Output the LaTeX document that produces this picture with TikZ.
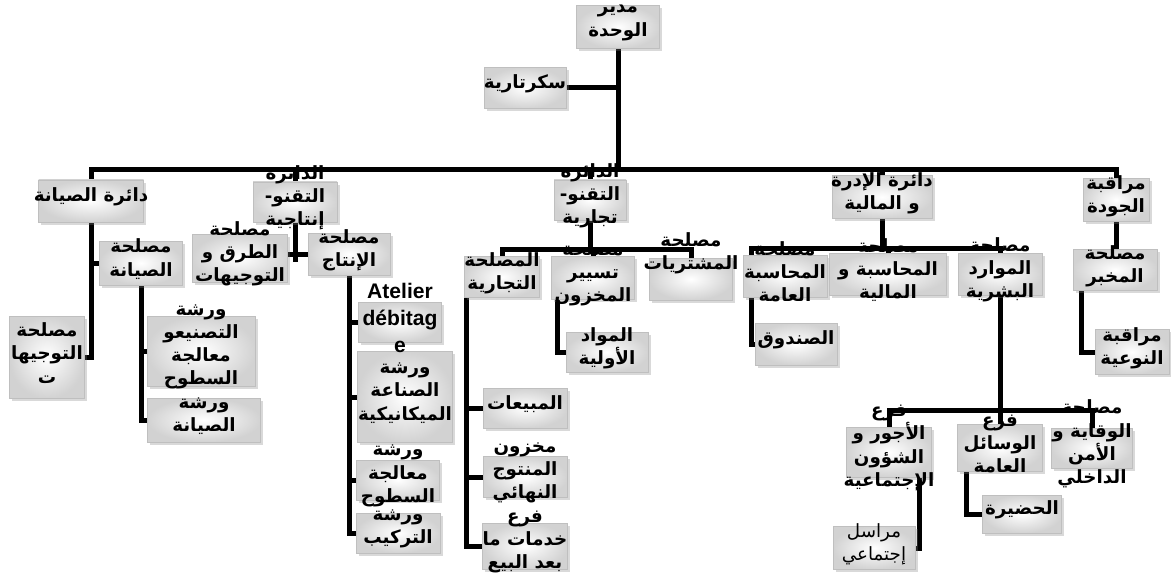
\documentclass[tikz,border=0pt]{standalone}
\usepackage{fontspec}
\setmainfont{Liberation Sans}
\newfontfamily\arabicfont[Script=Arabic]{DejaVu Sans}
\TeXXeTstate=1
\usetikzlibrary{shadows,backgrounds}
\newcommand{\arb}[1]{\beginR #1\endR}
\tikzstyle{box} = [rectangle, draw=gray!50, inner color=white, outer color=gray!35,
  drop shadow={opacity=0.3, shadow xshift=0.7mm, shadow yshift=-0.7mm}, inner sep=0pt]
\tikzstyle{txt} = [font=\fontsize{13}{16.5}\selectfont\arabicfont\bfseries, align=center,
  inner sep=0pt, yshift=1mm]
\tikzstyle{line} = [draw, line width=1.25mm]
\tikzset{sz/.style 2 args={minimum width=#1*0.25mm, minimum height=#2*0.25mm}}

\begin{document}
\begin{tikzpicture}[x=0.25mm, y=-0.25mm]
    \useasboundingbox (0,0) rectangle (1171,581);
    % boxes
    \node [box, sz={83}{43}] (dir) at (618,27) {};
    \node [box, sz={82}{41}] (sec) at (525,88) {};
    \node [box, sz={105}{42}] (maint) at (91,201) {};
    \node [box, sz={84}{40}] (prod) at (295,202) {};
    \node [box, sz={72}{40}] (comm) at (590,200) {};
    \node [box, sz={100}{43}] (admin) at (882,197) {};
    \node [box, sz={66}{43}] (qual) at (1116,200) {};
    \node [box, sz={83}{44}] (mtsvc) at (141,263) {};
    \node [box, sz={75}{82}] (guid) at (47,357) {};
    \node [box, sz={108}{70}] (ws1) at (201,351) {};
    \node [box, sz={113}{44}] (ws2) at (204,420) {};
    \node [box, sz={95}{48}] (roads) at (240,258) {};
    \node [box, sz={82}{42}] (prodsvc) at (349,254) {};
    \node [box, sz={83}{40}] (deb) at (400,322) {};
    \node [box, sz={95}{91}] (mech) at (405,397) {};
    \node [box, sz={83}{40}] (surf) at (398,480) {};
    \node [box, sz={84}{40}] (asm) at (398,533) {};
    \node [box, sz={75}{41}] (tsale) at (502,277) {};
    \node [box, sz={83}{43}] (stock) at (593,278) {};
    \node [box, sz={83}{42}] (purch) at (691,279) {};
    \node [box, sz={82}{40}] (raw) at (607,352) {};
    \node [box, sz={84}{40}] (sales) at (525,408) {};
    \node [box, sz={84}{41}] (fstock) at (525,477) {};
    \node [box, sz={85}{46}] (after) at (525,546) {};
    \node [box, sz={84}{42}] (gacc) at (785,276) {};
    \node [box, sz={117}{42}] (acc) at (888,274) {};
    \node [box, sz={84}{42}] (hr) at (1000,274) {};
    \node [box, sz={82}{42}] (cash) at (796,344) {};
    \node [box, sz={84}{41}] (lab) at (1115,270) {};
    \node [box, sz={74}{45}] (qc) at (1132,352) {};
    \node [box, sz={85}{50}] (wages) at (889,452) {};
    \node [box, sz={85}{47}] (means) at (1000,448) {};
    \node [box, sz={81}{40}] (prev) at (1092,448) {};
    \node [box, sz={82}{43}] (corr) at (874,548) {};
    \node [box, sz={79}{38}] (yard) at (1022,514) {};

    % texts
    \node [txt] (dir-t) at (dir) {\arb{مدير}\\\arb{الوحدة}};
    \node [txt] (sec-t) at (sec) {\arb{سكرتارية}};
    \node [txt] (maint-t) at (maint) {\arb{دائرة الصيانة}};
    \node [txt] (prod-t) at (prod) {\arb{الدائرة}\\\arb{التقنو-}\\\arb{إنتاجية}};
    \node [txt] (comm-t) at (comm) {\arb{الدائرة}\\\arb{التقنو-}\\\arb{تجارية}};
    \node [txt] (admin-t) at (admin) {\arb{دائرة الإدرة}\\\arb{و المالية}};
    \node [txt] (qual-t) at (qual) {\arb{مراقبة}\\\arb{الجودة}};
    \node [txt] (mtsvc-t) at (mtsvc) {\arb{مصلحة}\\\arb{الصيانة}};
    \node [txt] (guid-t) at (guid) {\arb{مصلحة}\\\arb{التوجيها}\\\arb{ت}};
    \node [txt] (ws1-t) at (ws1) {\arb{ورشة}\\\arb{التصنيعو}\\\arb{معالجة}\\\arb{السطوح}};
    \node [txt] (ws2-t) at (ws2) {\arb{ورشة}\\\arb{الصيانة}};
    \node [txt] (roads-t) at (roads) {\arb{مصلحة}\\\arb{الطرق و}\\\arb{التوجيهات}};
    \node [txt] (prodsvc-t) at (prodsvc) {\arb{مصلحة}\\\arb{الإنتاج}};
    \node [txt, font=\fontsize{15}{19}\selectfont\bfseries] (deb-t) at (deb) {Atelier\\débitag\\e};
    \node [txt] (mech-t) at (mech) {\arb{ورشة}\\\arb{الصناعة}\\\arb{الميكانيكية}};
    \node [txt] (surf-t) at (surf) {\arb{ورشة}\\\arb{معالجة}\\\arb{السطوح}};
    \node [txt] (asm-t) at (asm) {\arb{ورشة}\\\arb{التركيب}};
    \node [txt] (tsale-t) at (tsale) {\arb{المصلحة}\\\arb{التجارية}};
    \node [txt] (stock-t) at (stock) {\arb{مصلحة}\\\arb{تسيير}\\\arb{المخزون}};
    \node [txt, yshift=5.5mm] (purch-t) at (purch) {\arb{مصلحة}\\\arb{المشتريات}};
    \node [txt] (raw-t) at (raw) {\arb{المواد}\\\arb{الأولية}};
    \node [txt] (sales-t) at (sales) {\arb{المبيعات}};
    \node [txt] (fstock-t) at (fstock) {\arb{مخزون}\\\arb{المنتوج}\\\arb{النهائي}};
    \node [txt] (after-t) at (after) {\arb{فرع}\\\arb{خدمات ما}\\\arb{بعد البيع}};
    \node [txt] (gacc-t) at (gacc) {\arb{مصلحة}\\\arb{المحاسبة}\\\arb{العامة}};
    \node [txt] (acc-t) at (acc) {\arb{مصلحة}\\\arb{المحاسبة و}\\\arb{المالية}};
    \node [txt] (hr-t) at (hr) {\arb{مصلحة}\\\arb{الموارد}\\\arb{البشرية}};
    \node [txt] (cash-t) at (cash) {\arb{الصندوق}};
    \node [txt] (lab-t) at (lab) {\arb{مصلحة}\\\arb{المخبر}};
    \node [txt] (qc-t) at (qc) {\arb{مراقبة}\\\arb{النوعية}};
    \node [txt] (wages-t) at (wages) {\arb{فرع}\\\arb{الأجور و}\\\arb{الشؤون}\\\arb{الإجتماعية}};
    \node [txt] (means-t) at (means) {\arb{فرع}\\\arb{الوسائل}\\\arb{العامة}};
    \node [txt] (prev-t) at (prev) {\arb{مصلحة}\\\arb{الوقاية و}\\\arb{الأمن}\\\arb{الداخلي}};
    \node [txt, font=\fontsize{13}{16.5}\selectfont\arabicfont] (corr-t) at (corr) {\arb{مراسل}\\\arb{إجتماعي}};
    \node [txt] (yard-t) at (yard) {\arb{الحضيرة}};

    % edges
    \begin{pgfonlayer}{background}
    \coordinate (bar) at (0,170);
    \coordinate (cbar) at (0,249);
    \coordinate (abar) at (0,248);
    \coordinate (hbar) at (0,410);
    \coordinate (tsv) at ([xshift=0.5mm]tsale.south west);
    \coordinate (stv) at ([xshift=1.5mm]stock.south west);
    \coordinate (gav) at ([xshift=2.25mm]gacc.south west);
    \coordinate (lbv) at ([xshift=2.25mm]lab.south west);
    \coordinate (wgv) at ([xshift=-3mm]wages.south east);
    \coordinate (mnv) at ([xshift=2.25mm]means.south west);

    \path [line] (dir.south) -- (dir.south |- bar);
    \path [line] (sec.east) -- (sec.east -| dir);
    \path [line] (maint.north) -- (maint.north |- bar) -- (qual.north |- bar) -- (qual.north);
    \path [line] (prod.north) -- (prod.north |- bar);
    \path [line] (comm.north) -- (comm.north |- bar);
    \path [line] (admin.north) -- (admin.north |- bar);

    \draw [line] (maint.south) |- (guid.east);
    \path [line] (maint.south |- mtsvc.west) -- (mtsvc.west);
    \draw [line] (mtsvc.south) |- (ws2.west);
    \path [line] (mtsvc.south |- ws1.west) -- (ws1.west);

    \path [line] (prod.south) -- ++(0,40);
    \path [line] (prodsvc.west) -- (prodsvc.west -| roads.east);
    \draw [line] (prodsvc.south) |- (asm.west);
    \path [line] (prodsvc.south |- deb.west) -- (deb.west);
    \path [line] (prodsvc.south |- mech.west) -- (mech.west);
    \path [line] (prodsvc.south |- surf.west) -- (surf.west);

    \path [line] (comm.south) -- (comm.south |- cbar);
    \path [line] (tsale.north) -- (tsale.north |- cbar) -- (purch.north |- cbar) -- (purch.north);
    \path [line] (stock.north) -- (stock.north |- cbar);
    \draw [line] (tsv) |- (after.west);
    \path [line] (tsv |- sales.west) -- (sales.west);
    \path [line] (tsv |- fstock.west) -- (fstock.west);
    \draw [line] (stv) |- (raw.west);

    \path [line] (admin.south) -- (admin.south |- abar);
    \path [line] (gav |- gacc.north) -- (gav |- abar) -- (hr.north |- abar) -- (hr.north);
    \path [line] (acc.north) -- (acc.north |- abar);
    \draw [line] (gav) |- (cash.west);

    \path [line] (hr.south) -- (hr.south |- hbar);
    \path [line] (wages.north) -- (wages.north |- hbar) -- (prev.north |- hbar) -- (prev.north);
    \path [line] (means.north) -- (means.north |- hbar);
    \draw [line] (wgv) |- (corr.east);
    \draw [line] (mnv) |- (yard.west);

    \path [line] (qual.south) -- (qual.south |- lab.north);
    \draw [line] (lbv) |- (qc.west);
    \end{pgfonlayer}
\end{tikzpicture}
\end{document}
